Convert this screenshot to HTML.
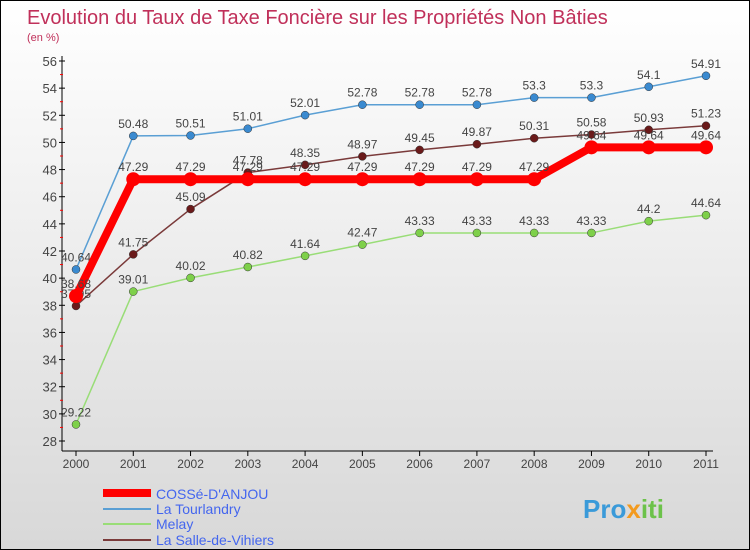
<!DOCTYPE html>
<html><head><meta charset="utf-8"><style>
body{margin:0}
#c{width:750px;height:550px;position:relative;overflow:hidden;box-sizing:border-box;border:1px solid #000;background:linear-gradient(#fff,#d8d8d8);font-family:"Liberation Sans",sans-serif}
</style></head><body>
<div id="c">
<svg width="750" height="550" id="s">
<text x="26" y="23" font-size="20" fill="#c0305a">Evolution du Taux de Taxe Foncière sur les Propriétés Non Bâties</text>
<text x="26" y="40" font-size="11" fill="#c0305a">(en %)</text>
<g id="ax"></g><g id="ser"></g>
<g font-size="14">
<line x1="102" y1="492" x2="150" y2="492" stroke="#f00" stroke-width="8"/>
<text x="155" y="498" fill="#4466ee">COSSé-D'ANJOU</text>
<line x1="102" y1="508" x2="150" y2="508" stroke="#5a9fd4" stroke-width="2"/>
<text x="155" y="513" fill="#4466ee">La Tourlandry</text>
<line x1="102" y1="523" x2="150" y2="523" stroke="#99dd77" stroke-width="2"/>
<text x="155" y="528" fill="#4466ee">Melay</text>
<line x1="102" y1="539" x2="150" y2="539" stroke="#7a3a3a" stroke-width="2"/>
<text x="155" y="544" fill="#4466ee">La Salle-de-Vihiers</text>
</g>
<text x="582" y="517" font-size="26" font-weight="bold" fill="#3a9ad9">Pro<tspan fill="#f39a1e">x</tspan><tspan fill="#6cc24a">iti</tspan></text>
</svg>
</div>
<script>
const years=[2000,2001,2002,2003,2004,2005,2006,2007,2008,2009,2010,2011];
const cosse=[38.68,47.29,47.29,47.29,47.29,47.29,47.29,47.29,47.29,49.64,49.64,49.64];
const tourlandry=[40.64,50.48,50.51,51.01,52.01,52.78,52.78,52.78,53.3,53.3,54.1,54.91];
const melay=[29.22,39.01,40.02,40.82,41.64,42.47,43.33,43.33,43.33,43.33,44.2,44.64];
const salle=[37.95,41.75,45.09,47.78,48.35,48.97,49.45,49.87,50.31,50.58,50.93,51.23];
const yTicks=[28,30,32,34,36,38,40,42,44,46,48,50,52,54,56];
const NS='http://www.w3.org/2000/svg';
const X=i=>75+i*(630/11);
const Y=v=>440-(v-28)*(380/28);
function mk(t,a,p){const e=document.createElementNS(NS,t);for(const k in a)e.setAttribute(k,a[k]);p.appendChild(e);return e;}
const ax=document.getElementById('ax'),ser=document.getElementById('ser');
let l=mk('line',{x1:61,y1:55,x2:61,y2:450,stroke:'#000','stroke-width':1},ax);


l=mk('line',{x1:61,y1:450,x2:712,y2:450,stroke:'#000','stroke-width':1},ax);


yTicks.forEach(v=>{
 mk('line',{x1:58,y1:Y(v),x2:64,y2:Y(v),stroke:'#000'},ax);
 if(v<56)mk('line',{x1:59,y1:Y(v+1),x2:62,y2:Y(v+1),stroke:'#f00'},ax);
 const t=mk('text',{x:56,y:Y(v)+5,'text-anchor':'end','font-size':13,fill:'#444'},ax);t.textContent=v;
 
 
});
years.forEach((y,i)=>{
 mk('line',{x1:X(i),y1:450,x2:X(i),y2:455,stroke:'#000'},ax);
 const t=mk('text',{x:X(i),y:467,'text-anchor':'middle','font-size':12,fill:'#444'},ax);t.textContent=y;
 
 
});
function series(d,col,w,r,dot,name){
 const g=mk('g',{},ser);
 
 
 const p=mk('polyline',{points:d.map((v,i)=>X(i)+','+Y(v)).join(' '),fill:'none',stroke:col,'stroke-width':w,'stroke-linejoin':'round'},g);
 
 
 d.forEach((v,i)=>{
  const c=mk('circle',{cx:X(i),cy:Y(v),r:r,fill:dot,stroke:w>3?'none':'#333','stroke-width':0.5},g);
  
  
  const t=mk('text',{x:X(i),y:Y(v)-8,'text-anchor':'middle','font-size':12,fill:'#444'},g);t.textContent=v;
  
  
 });
}
series(melay,'#99dd77',1.5,4,'#7ed04a','melay');
series(salle,'#7a3a3a',1.5,4,'#6a1a1a','salle');
series(tourlandry,'#5a9fd4',1.5,4,'#3a8ad0','tourlandry');
series(cosse,'#f00',8,7,'#f00','cosse');
</script>
</body></html>
